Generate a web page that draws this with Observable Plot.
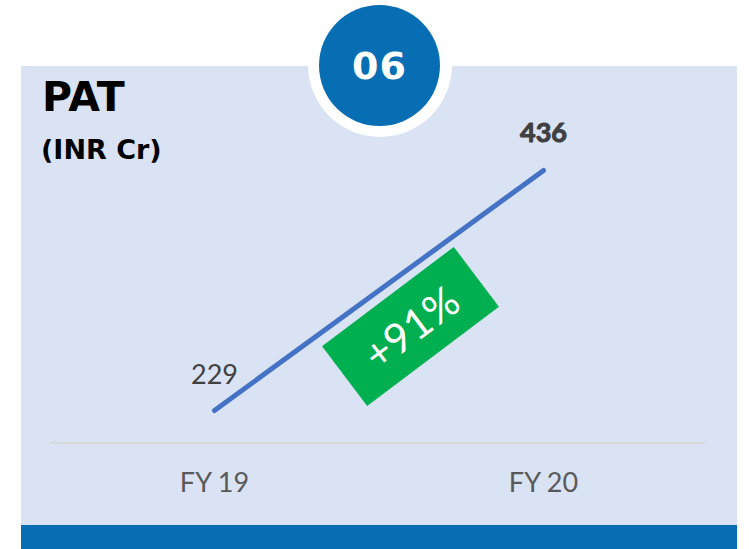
<!DOCTYPE html>
<html>
<head>
<meta charset="utf-8">
<script src="https://cdn.jsdelivr.net/npm/d3@7"></script>
<script src="https://cdn.jsdelivr.net/npm/@observablehq/plot@0.6"></script>
<style>
  html, body { margin: 0; padding: 0; background: #fff; }
  #wrap { position: relative; width: 749px; height: 549px; overflow: hidden; font-family: Lato, "Open Sans", sans-serif; }
  .panel { position: absolute; left: 21px; top: 66px; width: 716px; height: 483px; background: #DAE3F3; }
  .bar { position: absolute; left: 21px; top: 525px; width: 716px; height: 24px; background: #086EB4; }
  .ring { position: absolute; left: 308px; top: -7px; width: 144px; height: 144px; border-radius: 50%; background: #fff; }
  .badge { position: absolute; left: 319px; top: 5px; width: 121px; height: 121px; border-radius: 50%; background: #086EB4;
           color: #fff; font: 700 38px "DejaVu Sans", sans-serif; display: flex; align-items: center; justify-content: center; letter-spacing: 1px; }
  .title { position: absolute; left: 42px; top: 77px; font: 700 41px "DejaVu Sans", sans-serif; color: #000; line-height: 1; }
  .unit { position: absolute; left: 41px; top: 136px; font: 700 27px "DejaVu Sans", sans-serif; color: #000; line-height: 1; }
  .axisline { position: absolute; left: 50px; top: 442px; width: 656px; height: 2px; background: #D9D9D9; }
  .growth { position: absolute; left: 328px; top: 289px; width: 165px; height: 75px; background: #00B050; color: #fff;
            transform: rotate(-37deg); transform-origin: 50% 50%; display: flex; align-items: center; justify-content: center;
            font: 400 42px Lato, "Open Sans", sans-serif; }
  #chart { position: absolute; left: 0; top: 0; }
</style>
</head>
<body>
<div id="wrap">
  <div class="panel"></div>
  <div class="bar"></div>
  <div class="ring"></div>
  <div class="badge" id="badge"></div>
  <div class="title">PAT</div>
  <div class="unit">(INR Cr)</div>
  <div class="axisline"></div>
  <div class="growth" id="growth"></div>
  <div id="chart"></div>
</div>
<script>
const years = ["FY 19", "FY 20"];
const pat = [229, 436];
const growthLabel = "+91%";
const badgeLabel = "06";

const data = years.map((y, i) => ({year: y, value: pat[i], last: i === years.length - 1}));

document.getElementById("growth").textContent = growthLabel;
document.getElementById("badge").textContent = badgeLabel;

const chart = Plot.plot({
  width: 749,
  height: 549,
  marginTop: 0,
  marginLeft: 0,
  marginRight: 0,
  marginBottom: 106,
  style: {background: "transparent", overflow: "visible"},
  x: {type: "point", domain: years, range: [214, 543], padding: 0, label: null},
  y: {domain: [229, 436], range: [410, 170], axis: null},
  marks: [
    Plot.axisX({tickSize: 0, tickPadding: 29, fontSize: 27, fill: "#595959", fontFamily: "Lato, sans-serif", label: null}),
    Plot.line(data, {x: "year", y: "value", stroke: "#4472C4", strokeWidth: 5, strokeLinecap: "round"}),
    Plot.text(data.filter(d => !d.last), {x: "year", y: "value", text: d => String(d.value), dy: -35, fontSize: 27, fill: "#404040", fontFamily: "Lato, sans-serif"}),
    Plot.text(data.filter(d => d.last), {x: "year", y: "value", text: d => String(d.value), dy: -37, fontSize: 27, fontWeight: 700, fill: "#404040", stroke: "#404040", strokeWidth: 1, fontFamily: "Lato, sans-serif"})
  ]
});
document.getElementById("chart").appendChild(chart);
</script>
</body>
</html>
